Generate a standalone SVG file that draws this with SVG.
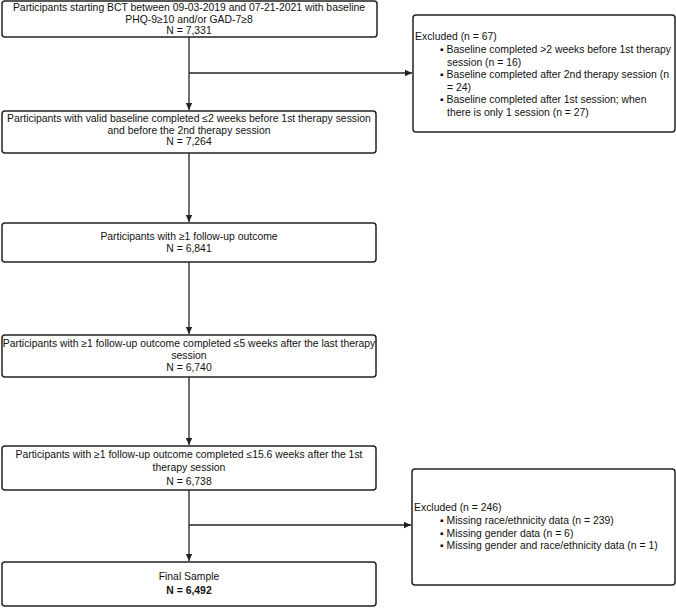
<svg xmlns="http://www.w3.org/2000/svg" width="676" height="608" viewBox="0 0 676 608">
<style>
.box{fill:#fff;stroke:#222;stroke-width:1.5}
.t{font-family:"Liberation Sans",Arial,sans-serif;font-size:10.4px;fill:#111}
.c{text-anchor:middle}
.b{font-weight:bold}
.ln{stroke:#222;stroke-width:1.3;fill:none}
</style>
<defs>
<marker id="ah" markerWidth="8" markerHeight="8" refX="7" refY="4" orient="auto" markerUnits="userSpaceOnUse">
<path d="M0,0.8 L7,4 L0,7.2 Z" fill="#222"/>
</marker>
</defs>
<g id="connectors">
<path class="ln" d="M189,37 V110" marker-end="url(#ah)"/>
<path class="ln" d="M189,73 H412" marker-end="url(#ah)"/>
<path class="ln" d="M189,153 V222" marker-end="url(#ah)"/>
<path class="ln" d="M189,262 V334" marker-end="url(#ah)"/>
<path class="ln" d="M189,377 V445" marker-end="url(#ah)"/>
<path class="ln" d="M189,490 V561" marker-end="url(#ah)"/>
<path class="ln" d="M189,525 H411" marker-end="url(#ah)"/>
</g>
<g id="n1">
<rect class="box" x="2" y="1" width="375" height="36" rx="3"/>
<text class="t c" x="189" y="11">Participants starting BCT between 09-03-2019 and 07-21-2021 with baseline</text>
<text class="t c" x="189" y="23">PHQ-9≥10 and/or GAD-7≥8</text>
<text class="t c" x="189" y="34">N = 7,331</text>
</g>
<g id="n2">
<rect class="box" x="2" y="111" width="374" height="42" rx="3"/>
<text class="t c" x="189" y="122">Participants with valid baseline completed ≤2 weeks before 1st therapy session</text>
<text class="t c" x="189" y="134">and before the 2nd therapy session</text>
<text class="t c" x="189" y="145">N = 7,264</text>
</g>
<g id="n3">
<rect class="box" x="2" y="223" width="374" height="39" rx="3"/>
<text class="t c" x="189" y="240">Participants with ≥1 follow-up outcome</text>
<text class="t c" x="189" y="252">N = 6,841</text>
</g>
<g id="n4">
<rect class="box" x="2" y="335" width="374" height="42" rx="3"/>
<text class="t c" x="189" y="347">Participants with ≥1 follow-up outcome completed ≤5 weeks after the last therapy</text>
<text class="t c" x="189" y="359">session</text>
<text class="t c" x="189" y="371">N = 6,740</text>
</g>
<g id="n5">
<rect class="box" x="2" y="446" width="374" height="44" rx="3"/>
<text class="t c" x="189" y="458">Participants with ≥1 follow-up outcome completed ≤15.6 weeks after the 1st</text>
<text class="t c" x="189" y="471">therapy session</text>
<text class="t c" x="189" y="485">N = 6,738</text>
</g>
<g id="n6">
<rect class="box" x="2" y="562" width="374" height="44" rx="3"/>
<text class="t c" x="189" y="580">Final Sample</text>
<text class="t c b" x="189" y="594">N = 6,492</text>
</g>
<g id="ex1">
<rect class="box" x="413" y="15" width="262" height="117" rx="3"/>
<text class="t" x="415" y="40">Excluded (n = 67)</text>
<text class="t" x="440" y="53">▪ Baseline completed &gt;2 weeks before 1st therapy</text>
<text class="t" x="447" y="66">session (n = 16)</text>
<text class="t" x="440" y="78">▪ Baseline completed after 2nd therapy session (n</text>
<text class="t" x="447" y="91">= 24)</text>
<text class="t" x="440" y="103">▪ Baseline completed after 1st session; when</text>
<text class="t" x="447" y="116">there is only 1 session (n = 27)</text>
</g>
<g id="ex2">
<rect class="box" x="412" y="469" width="263" height="116" rx="3"/>
<text class="t" x="414" y="511">Excluded (n = 246)</text>
<text class="t" x="440" y="524">▪ Missing race/ethnicity data (n = 239)</text>
<text class="t" x="440" y="537">▪ Missing gender data (n = 6)</text>
<text class="t" x="440" y="549">▪ Missing gender and race/ethnicity data (n = 1)</text>
</g>
</svg>
